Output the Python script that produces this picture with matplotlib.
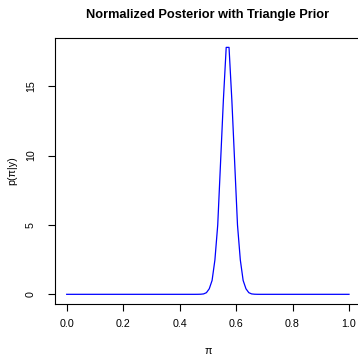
"""Normalized posterior with a triangle prior, drawn in the style of base R graphics."""

import matplotlib

matplotlib.use("Agg")
import matplotlib.pyplot as plt

# Grid points of pi and the normalized posterior
pi_values = [
    0.0, 0.455, 0.465, 0.475, 0.485, 0.495, 0.505, 0.515, 0.525, 0.535,
    0.545, 0.555, 0.565, 0.575, 0.585, 0.595, 0.605, 0.615, 0.625, 0.635,
    0.645, 0.655, 0.665, 0.675, 0.685, 1.0,
]
posterior = [
    0.0, 0.0, 0.002, 0.008, 0.03, 0.12, 0.4, 1.0, 2.48, 5.0,
    9.5, 14.0, 17.8, 17.8, 14.0, 9.5, 5.0, 2.48, 1.0, 0.4,
    0.12, 0.03, 0.008, 0.002, 0.0, 0.0,
]
x_ticks = [0.0, 0.2, 0.4, 0.6, 0.8, 1.0]
y_ticks = [0, 5, 10, 15]

plt.rcParams["font.family"] = ["Liberation Sans", "DejaVu Sans"]

fig = plt.figure(figsize=(3.58, 3.55), dpi=100)
# right edge deliberately a little past the figure, as in the reference crop
ax = fig.add_axes([55.4 / 358, 1 - 304.2 / 355, (360.3 - 55.4) / 358, (304.2 - 37.5) / 355])

ax.plot(pi_values, posterior, color="blue", lw=0.9)

# R-style 4% axis expansion
ymax = max(posterior)
ax.set_xlim(-0.04, 1.04)
ax.set_ylim(-0.04 * ymax, 1.04 * ymax)

ax.set_xticks(x_ticks)
ax.set_xticklabels([f"{t:.1f}" for t in x_ticks])
ax.set_yticks(y_ticks)
ax.set_yticklabels([str(t) for t in y_ticks], rotation=90, va="center")

for side in ["left", "bottom", "top", "right"]:
    ax.spines[side].set_linewidth(0.8)
ax.tick_params(axis="both", direction="out", length=5, width=0.8, labelsize=7.7)
ax.tick_params(axis="x", pad=6)
ax.tick_params(axis="y", pad=9)

ax.set_xlabel("π", fontsize=7.7, labelpad=12)
ax.set_ylabel("p(π|y)", fontsize=7.7, labelpad=6)
ax.set_title("Normalized Posterior with Triangle Prior", fontsize=9.2,
             fontweight="bold", pad=14)

fig.savefig("out.png", dpi=100)
